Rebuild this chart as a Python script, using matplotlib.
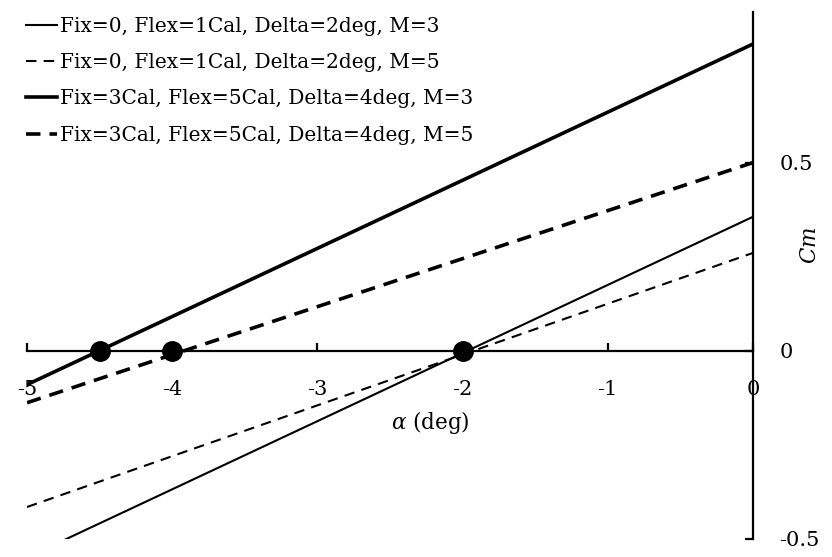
import matplotlib
matplotlib.use("Agg")
import matplotlib.pyplot as plt
import numpy as np

# Data
alpha = [-5, 0]
cm_fix0_m3 = [-0.549, 0.356]
cm_fix0_m5 = [-0.415, 0.260]
cm_fix3_m3 = [-0.090, 0.815]
cm_fix3_m5 = [-0.138, 0.500]
trim_alpha = [-4.5, -4.0, -2.0]
trim_cm = [0, 0, 0]

labels = ["Fix=0, Flex=1Cal, Delta=2deg, M=3",
          "Fix=0, Flex=1Cal, Delta=2deg, M=5",
          "Fix=3Cal, Flex=5Cal, Delta=4deg, M=3",
          "Fix=3Cal, Flex=5Cal, Delta=4deg, M=5"]
xticks = [-5, -4, -3, -2, -1, 0]
xticklabels = ["-5", "-4", "-3", "-2", "-1", "0"]
yticks = [-0.5, 0, 0.5]
yticklabels = ["-0.5", "0", "0.5"]

plt.rcParams['font.family'] = ['DejaVu Serif']
plt.rcParams['mathtext.fontset'] = 'dejavuserif'

fig = plt.figure(figsize=(8.32, 5.57), dpi=100)
ax = fig.add_axes([27/832, 1-539/557, (753-27)/832, (539-12)/557])

ax.plot(alpha, cm_fix0_m3, color='black', lw=1.5, ls='-', label=labels[0])
ax.plot(alpha, cm_fix0_m5, color='black', lw=1.5, ls=(0, (5, 3.5)), label=labels[1])
ax.plot(alpha, cm_fix3_m3, color='black', lw=2.6, ls='-', label=labels[2])
ax.plot(alpha, cm_fix3_m5, color='black', lw=2.6, ls=(0, (4, 2.5)), label=labels[3])
ax.plot(trim_alpha, trim_cm, 'o', color='black', ms=14, zorder=5, clip_on=False)

ax.set_xlim(-5, 0)
ax.set_ylim(-0.5, 0.9)

for s in ['left', 'top']:
    ax.spines[s].set_visible(False)
ax.spines['bottom'].set_position(('data', 0))
ax.spines['right'].set_position(('data', 0))
for s in ['bottom', 'right']:
    ax.spines[s].set_linewidth(1.6)

ax.set_xticks(xticks)
ax.set_xticklabels(xticklabels)
ax.set_yticks(yticks)
ax.set_yticklabels(yticklabels)
ax.yaxis.tick_right()
ax.tick_params(axis='x', direction='in', length=6, width=1.6, pad=21, labelsize=15)
ax.tick_params(axis='y', direction='in', length=6, width=1.6, pad=19, labelsize=15)
for lab in ax.get_yticklabels():
    lab.set_horizontalalignment('left')

ax.text(-2.22, -0.19, r'$\alpha$ (deg)', fontsize=15.5, ha='center', va='center')
ax.text(0.39, 0.28, r'$Cm$', fontsize=15.5, ha='center', va='center', rotation=90)

leg = ax.legend(loc='upper left', bbox_to_anchor=(-0.004, 0.995), frameon=False,
                fontsize=14.5, handlelength=1.55, handletextpad=0.15,
                labelspacing=0.86, borderaxespad=0, borderpad=0.1)

fig.savefig("out.png", dpi=100)
